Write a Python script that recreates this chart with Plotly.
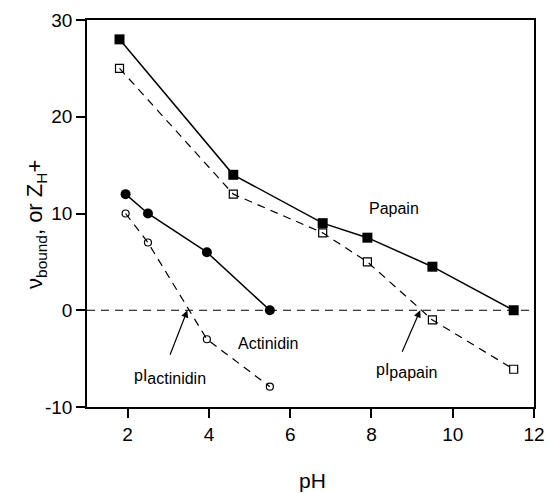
import plotly.graph_objects as go

# Data
papain_ph = [1.8, 4.6, 6.8, 7.9, 9.5, 11.5]
papain_vbound = [28, 14, 9, 7.5, 4.5, 0]
papain_zh = [25, 12, 8, 5, -1, -6.1]

actinidin_ph = [1.95, 2.5, 3.95, 5.5]
actinidin_vbound = [12, 10, 6, 0]
actinidin_zh = [10, 7, -3, -7.9]

pi_actinidin = 3.47
pi_papain = 9.2

x_ticks = [2, 4, 6, 8, 10, 12]
y_ticks = [-10, 0, 10, 20, 30]
y_tick_labels = ["-10", "0", "10", "20", "30"]

FONT = "Liberation Sans, Arial, Helvetica, sans-serif"
DASH = "8px,6px"

fig = go.Figure()

# zero line
fig.add_trace(go.Scatter(x=[1, 12], y=[0, 0], mode="lines",
                         line=dict(color="black", width=1, dash=DASH),
                         hoverinfo="skip", showlegend=False))

fig.add_trace(go.Scatter(x=papain_ph, y=papain_zh, mode="lines+markers",
                         line=dict(color="black", width=1.2, dash=DASH),
                         marker=dict(symbol="square-open", size=8, color="black",
                                     line=dict(width=1.2)),
                         showlegend=False))
fig.add_trace(go.Scatter(x=papain_ph, y=papain_vbound, mode="lines+markers",
                         line=dict(color="black", width=1.5),
                         marker=dict(symbol="square", size=10, color="black"),
                         showlegend=False))
fig.add_trace(go.Scatter(x=actinidin_ph, y=actinidin_zh, mode="lines+markers",
                         line=dict(color="black", width=1.2, dash=DASH),
                         marker=dict(symbol="circle-open", size=7, color="black",
                                     line=dict(width=1.2)),
                         showlegend=False))
fig.add_trace(go.Scatter(x=actinidin_ph, y=actinidin_vbound, mode="lines+markers",
                         line=dict(color="black", width=1.5),
                         marker=dict(symbol="circle", size=10, color="black"),
                         showlegend=False))

ann_font = dict(family=FONT, size=16, color="black")
SUB = "<sub><span style='font-size:16px'>%s</span></sub>"
fig.add_annotation(x=8.55, y=10.5, text="Papain", showarrow=False, font=ann_font)
fig.add_annotation(x=5.45, y=-3.4, text="Actinidin", showarrow=False, font=ann_font)
fig.add_annotation(x=3.05, y=-6.95, text="pI" + SUB % "actinidin", showarrow=False, font=ann_font)
fig.add_annotation(x=8.85, y=-6.25, text="pI" + SUB % "papain", showarrow=False, font=ann_font)
fig.add_annotation(x=pi_actinidin, y=0, ax=3.03, ay=-4.75, axref="x", ayref="y",
                   text="", showarrow=True, arrowhead=2, arrowsize=1.2, arrowwidth=1.2,
                   arrowcolor="black")
fig.add_annotation(x=pi_papain, y=0, ax=8.74, ay=-4.45, axref="x", ayref="y",
                   text="", showarrow=True, arrowhead=2, arrowsize=1.2, arrowwidth=1.2,
                   arrowcolor="black")

# axis titles
fig.add_annotation(xref="paper", yref="paper", x=-0.15, y=0.473,
                   text="ν<sub>bound</sub>, or Z<sub>H</sub>+", textangle=-90,
                   showarrow=False, font=dict(family=FONT, size=22, color="black"))
fig.add_annotation(xref="paper", yref="paper", x=0.505, y=-0.19, yanchor="middle",
                   text="pH", showarrow=False, font=dict(family=FONT, size=21, color="black"))

fig.update_layout(
    template="none",
    width=549, height=493,
    margin=dict(l=87, r=15, t=20, b=86, pad=0, autoexpand=False),
    paper_bgcolor="white", plot_bgcolor="white",
    font=dict(family=FONT, size=19, color="black"),
    showlegend=False,
)
fig.update_xaxes(range=[1, 12], tickvals=x_ticks, ticks="outside", ticklen=9,
                 tickwidth=1.5, tickcolor="black", showline=True, linecolor="black",
                 linewidth=1.5, mirror=True, showgrid=False, zeroline=False,
                 automargin=False)
fig.update_yaxes(range=[-10, 30], tickvals=y_ticks, ticktext=y_tick_labels,
                 ticks="outside", ticklen=9,
                 tickwidth=1.5, tickcolor="black", showline=True, linecolor="black",
                 linewidth=1.5, mirror=True, showgrid=False, zeroline=False,
                 automargin=False)

fig.write_html("out.html", config={"displayModeBar": False},
               post_script="document.body.style.margin='0';document.body.style.overflow='hidden';")
